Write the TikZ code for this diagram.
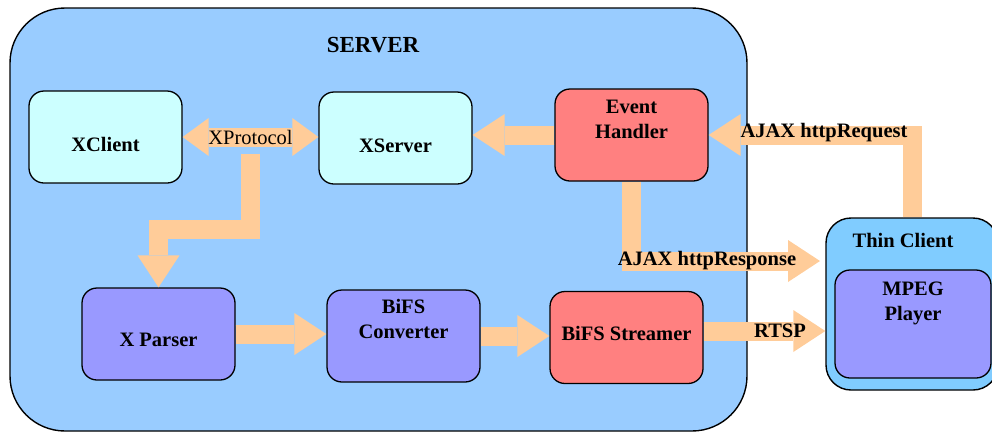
\documentclass[tikz,border=0pt]{standalone}
\usepackage{fontspec}
\setmainfont{Liberation Serif}
\usetikzlibrary{arrows.meta}
\definecolor{serverblue}{HTML}{99CCFF}
\definecolor{clientblue}{HTML}{80CCFF}
\definecolor{xcyan}{HTML}{CCFFFF}
\definecolor{hotred}{HTML}{FF8080}
\definecolor{lilac}{HTML}{9999FF}
\definecolor{peach}{HTML}{FFCC99}
\newcommand{\boxtext}[2]{\raisebox{#1}[0pt][0pt]{\begin{tabular}{@{}c@{}}#2\end{tabular}}}
\tikzset{
    container/.style = {draw=black, line width=1.4pt, rectangle, inner sep=0pt},
    block/.style = {draw=black, line width=1.3pt, rectangle, rounded corners=15pt, minimum width=153pt, minimum height=92pt, inner sep=0pt, font=\bfseries\fontsize{20.5pt}{24.6pt}\selectfont},
    block-title/.style = {font=\bfseries\fontsize{20.5pt}{24.6pt}\selectfont, inner sep=0pt},
    fat-arrow/.style = {draw=peach, line width=19pt, -{Triangle[length=32pt, width=42pt, line width=0pt]}},
    fat-both/.style = {draw=peach, line width=19pt, {Triangle[length=26pt, width=38pt, line width=0pt]}-{Triangle[length=26pt, width=38pt, line width=0pt]}},
    arrow-label/.style = {font=\bfseries\fontsize{20.5pt}{24.6pt}\selectfont, inner sep=0pt},
}

\begin{document}
\begin{tikzpicture}[x=1pt, y=-1pt]
\useasboundingbox (0,0) rectangle (992,432);
\node [container, fill=serverblue, rounded corners=55pt, minimum width=737pt, minimum height=423pt] (server) at (378.5,219.5) {};
\node [block-title, font=\bfseries\fontsize{23pt}{27pt}\selectfont] (server-title) at (373,45) {SERVER};
\node [container, fill=clientblue, rounded corners=25pt, minimum width=172pt, minimum height=172pt] (thin) at (912,304) {};
\node [block-title] (thin-title) at (903,240) {Thin Client};

\node [block, fill=xcyan] (xclient) at (105.5,137) {\boxtext{-15pt}{XClient}};
\node [block, fill=xcyan] (xserver) at (395.5,138) {\boxtext{-15pt}{XServer}};
\node [block, fill=hotred] (ehandler) at (631.5,135) {\boxtext{8.5pt}{Event\\Handler}};
\node [block, fill=lilac] (xparser) at (158.5,334) {\boxtext{-13pt}{X Parser}};
\node [block, fill=lilac] (bconv) at (403.5,336) {\boxtext{10pt}{BiFS\\Converter}};
\node [block, fill=hotred] (bstreamer) at (626.5,337.5) {\boxtext{-3pt}{BiFS Streamer}};
\node [block, fill=lilac, minimum width=156pt, minimum height=108pt] (mpeg) at (913,324) {\boxtext{15.5pt}{MPEG\\Player}};

\coordinate (resp-end) at (820,261);

\draw [fat-both] (xclient.east) -- (xclient.east -| xserver.west)
    node [midway, inner sep=0pt, font=\fontsize{20.5pt}{24.6pt}\selectfont] (xproto) {XProtocol};
\draw [fat-arrow] (xproto.south) -- (xproto.south |- 0,229) -| (xparser.north);
\draw [fat-arrow] (ehandler.west) -- (ehandler.west -| xserver.east);
\draw [fat-arrow] (xparser.east) -- (xparser.east -| bconv.west);
\draw [fat-arrow] (bconv.east) -- (bconv.east -| bstreamer.west);
\draw [fat-arrow] (thin.north) |- (ehandler.east);
\draw [fat-arrow] (ehandler.south) |- (resp-end);
\draw [fat-arrow] (bstreamer.east |- 0,331) -- (thin.west |- 0,331);

\node [arrow-label] (req-label) at (824,133) {AJAX httpRequest};
\node [arrow-label] (resp-label) at (707,261) {AJAX httpResponse};
\node [arrow-label] (rtsp-label) at (780,331) {RTSP};
\end{tikzpicture}
\end{document}
